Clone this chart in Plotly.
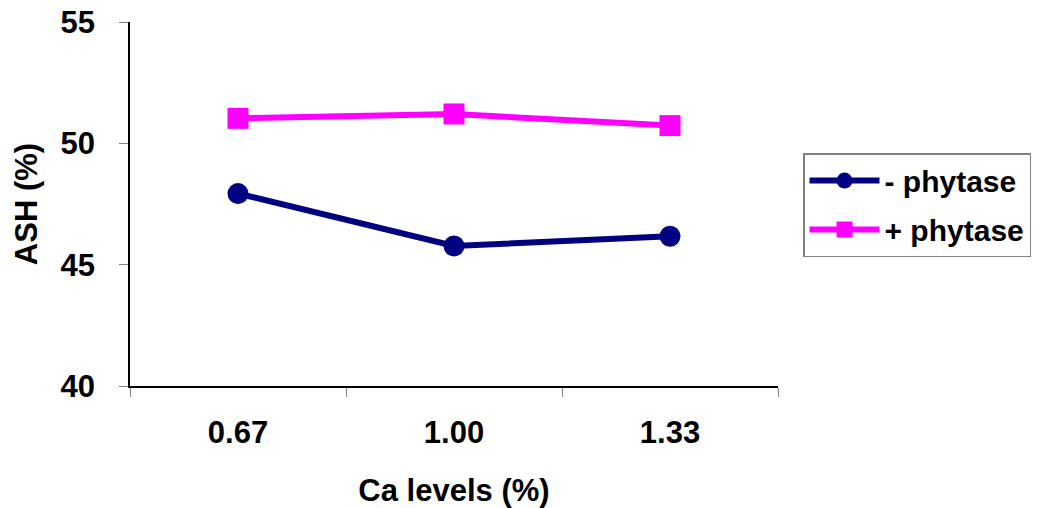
import plotly.graph_objects as go

# Ash content by dietary calcium level, with and without phytase
ca_levels = ["0.67", "1.00", "1.33"]
ash_minus_phytase = [47.93, 45.77, 46.17]
ash_plus_phytase = [51.03, 51.21, 50.73]

FONT = "Liberation Sans, Arial, sans-serif"
NAVY = "#000080"
MAGENTA = "#FF00FF"
TXT = 31

fig = go.Figure()
fig.add_trace(go.Scatter(
    x=ca_levels, y=ash_minus_phytase, name="- phytase",
    legendgroup="minus",
    mode="lines+markers",
    line=dict(color=NAVY, width=6),
    marker=dict(symbol="circle", size=21, color=NAVY),
))
fig.add_trace(go.Scatter(
    x=ca_levels, y=ash_plus_phytase, name="+ phytase",
    legendgroup="plus",
    mode="lines+markers",
    line=dict(color=MAGENTA, width=6),
    marker=dict(symbol="square", size=21, color=MAGENTA),
))

fig.update_layout(
    width=1044, height=508,
    margin=dict(l=130, r=266, t=22, b=122, autoexpand=False),
    paper_bgcolor="white", plot_bgcolor="white",
    font=dict(family=FONT, size=TXT, color="black"),
    showlegend=True,
    legend=dict(
        x=1.0386, y=0.64, xanchor="left", yanchor="top",
        bordercolor="#808080", borderwidth=1.5,
        font=dict(family=FONT, size=30, color="black", weight="bold"),
        itemwidth=70, tracegroupgap=7,
    ),
)

fig.update_xaxes(
    type="category", automargin=False,
    showline=True, linecolor="black", linewidth=1.5,
    ticks="outside", tickson="boundaries", ticklen=9, tickcolor="#808080",
    tickfont=dict(family=FONT, size=TXT, weight="bold"),
    ticklabelstandoff=18,
    showgrid=False, zeroline=False,
    range=[-0.5, 2.5],
    title=dict(text="Ca levels (%)", font=dict(family=FONT, size=TXT, weight="bold"), standoff=30),
)
fig.update_yaxes(
    range=[40, 55], tickvals=[40, 45, 50, 55], automargin=False,
    showline=True, linecolor="black", linewidth=1.5,
    ticks="outside", ticklen=9, tickcolor="#808080",
    tickfont=dict(family=FONT, size=TXT, weight="bold"),
    ticklabelstandoff=18,
    showgrid=False, zeroline=False,
    title=dict(text="ASH (%)", font=dict(family=FONT, size=TXT, weight="bold"), standoff=14),
)

fig.write_html("out.html")
